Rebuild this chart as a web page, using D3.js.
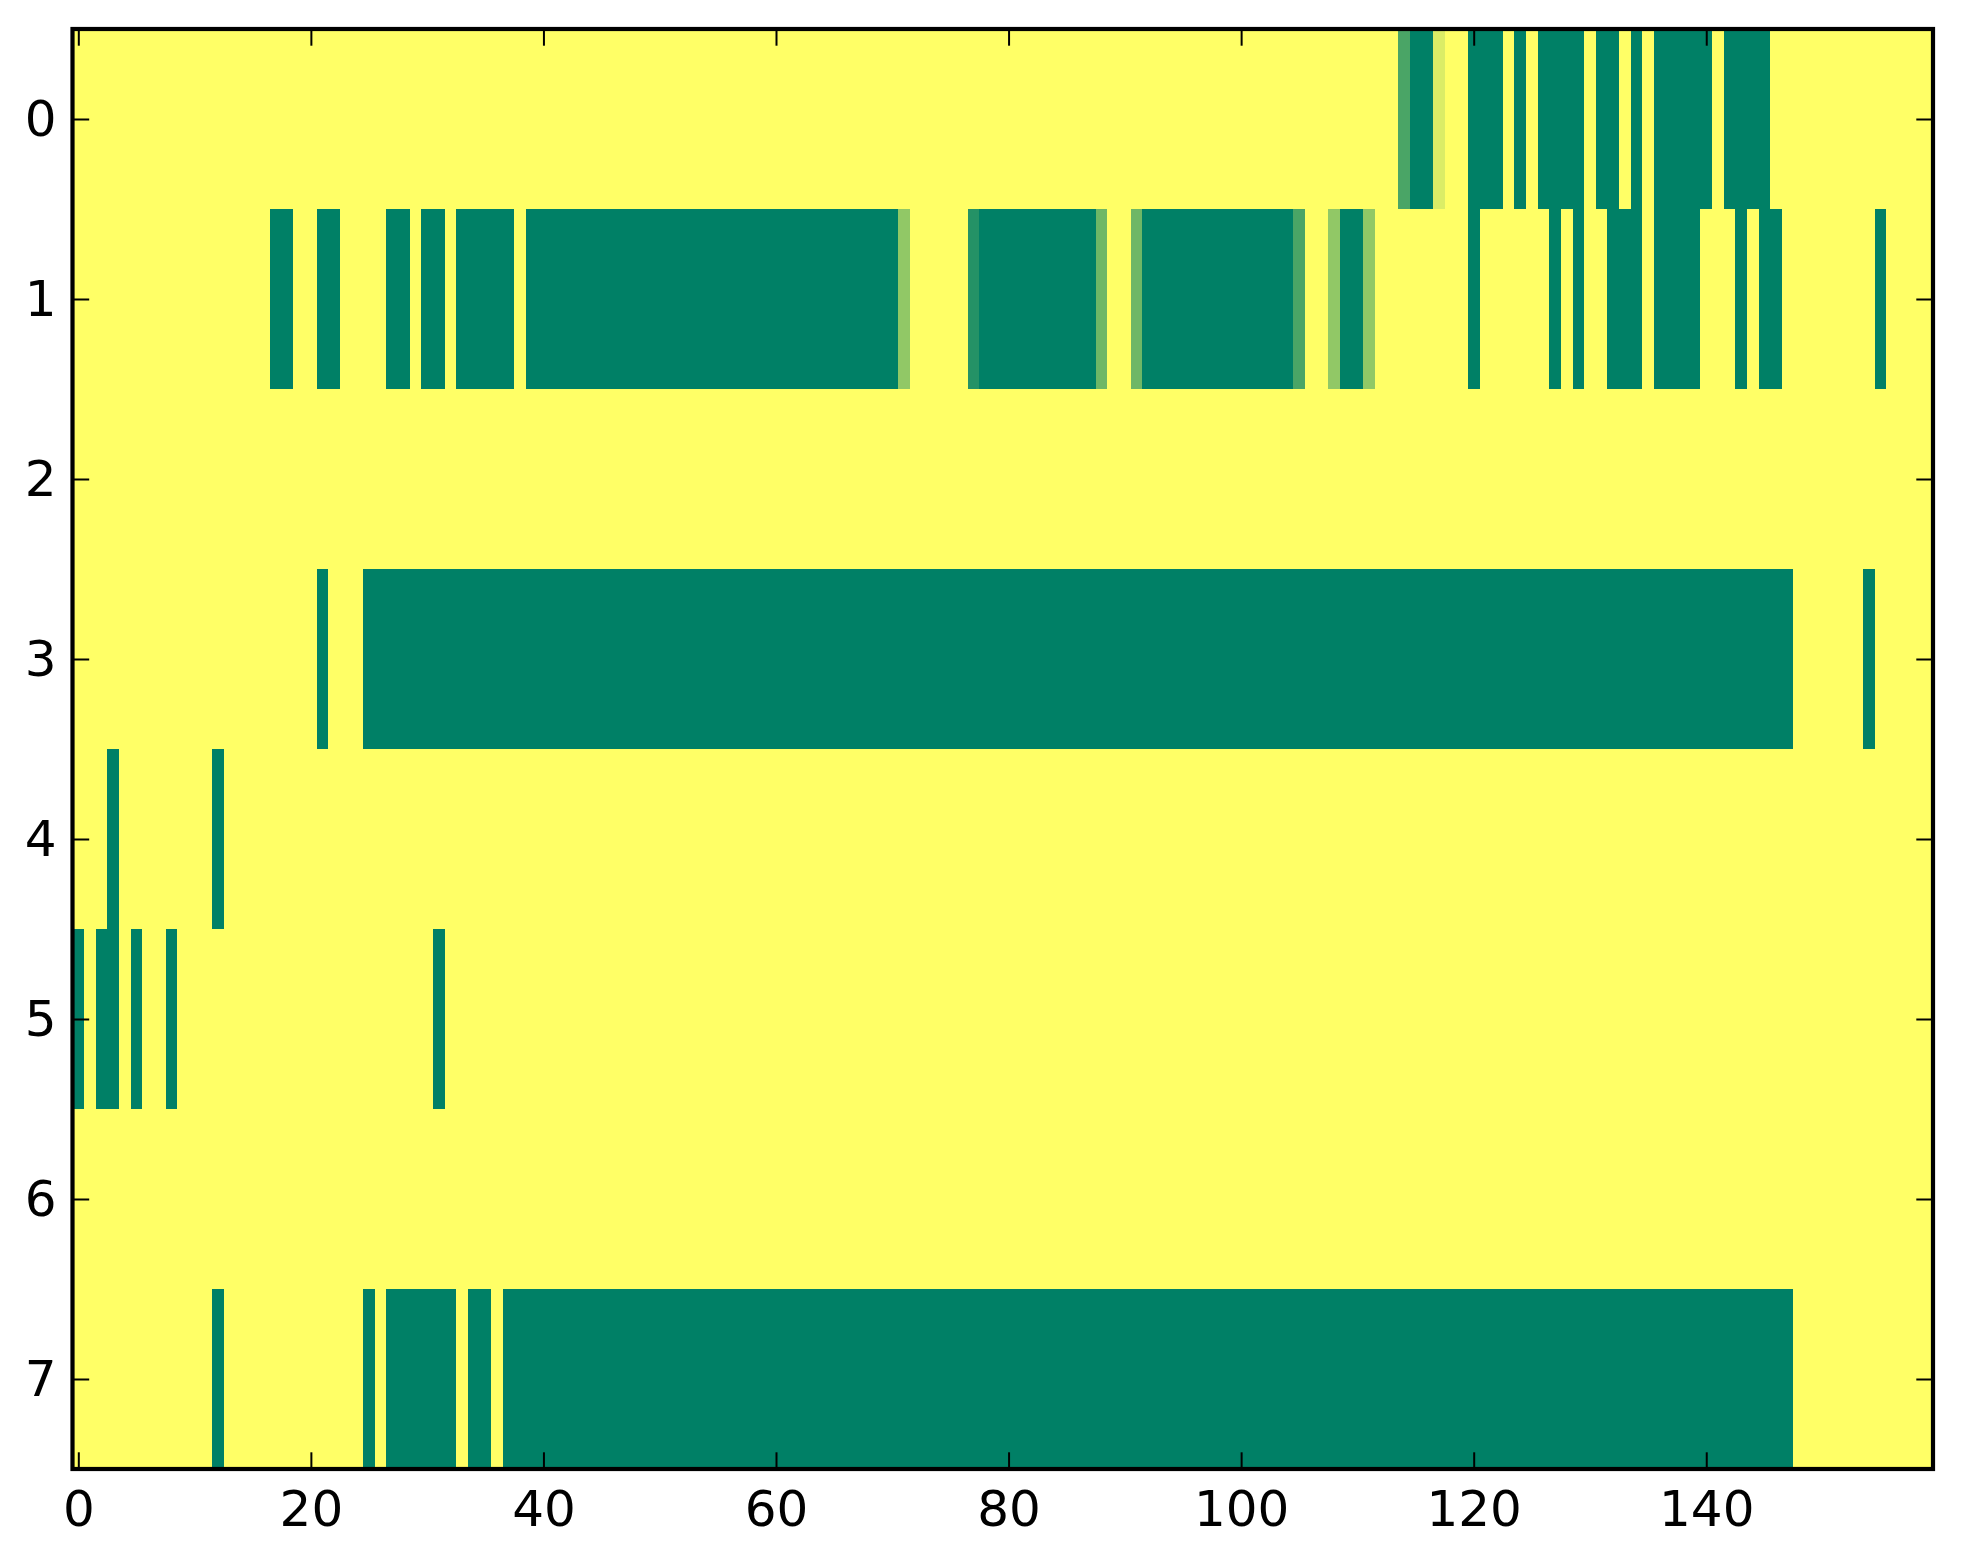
<!DOCTYPE html>
<html>
<head>
<meta charset="utf-8">
<script src="https://cdn.jsdelivr.net/npm/d3@7"></script>
<style>
  html, body { margin: 0; padding: 0; background: #fff; }
  svg { display: block; }
</style>
</head>
<body>
<div id="chart"></div>
<script>
// row labels and tick labels
const rowLabels = [0, 1, 2, 3, 4, 5, 6, 7]
const xTicks = [0, 20, 40, 60, 80, 100, 120, 140]
const yTicks = [0, 1, 2, 3, 4, 5, 6, 7]

// one array per row, 160 columns, values 0..1 (0 = green, 1 = yellow)
const row0 = [
  1,1,1,1,1,1,1,1,1,1,1,1,1,1,1,1,1,1,1,1,
  1,1,1,1,1,1,1,1,1,1,1,1,1,1,1,1,1,1,1,1,
  1,1,1,1,1,1,1,1,1,1,1,1,1,1,1,1,1,1,1,1,
  1,1,1,1,1,1,1,1,1,1,1,1,1,1,1,1,1,1,1,1,
  1,1,1,1,1,1,1,1,1,1,1,1,1,1,1,1,1,1,1,1,
  1,1,1,1,1,1,1,1,1,1,1,1,1,1,0.29,0,0,0.86,1,1,
  0,0,0,1,0,1,0,0,0,0,1,0,0,1,0,1,0,0,0,0,
  0,1,0,0,0,0,1,1,1,1,1,1,1,1,1,1,1,1,1,1
]
const row1 = [
  1,1,1,1,1,1,1,1,1,1,1,1,1,1,1,1,1,0,0,1,
  1,0,0,1,1,1,1,0,0,1,0,0,1,0,0,0,0,0,1,0,
  0,0,0,0,0,0,0,0,0,0,0,0,0,0,0,0,0,0,0,0,
  0,0,0,0,0,0,0,0,0,0,0,0.57,1,1,1,1,1,0.14,0,0,
  0,0,0,0,0,0,0,0,0.43,1,1,0.43,0,0,0,0,0,0,0,0,
  0,0,0,0,0,0.29,1,1,0.57,0,0,0.57,1,1,1,1,1,1,1,1,
  0,1,1,1,1,1,1,0,1,0,1,1,0,0,0,1,0,0,0,0,
  1,1,1,0,1,0,0,1,1,1,1,1,1,1,1,0,1,1,1,1
]
const row2 = [
  1,1,1,1,1,1,1,1,1,1,1,1,1,1,1,1,1,1,1,1,
  1,1,1,1,1,1,1,1,1,1,1,1,1,1,1,1,1,1,1,1,
  1,1,1,1,1,1,1,1,1,1,1,1,1,1,1,1,1,1,1,1,
  1,1,1,1,1,1,1,1,1,1,1,1,1,1,1,1,1,1,1,1,
  1,1,1,1,1,1,1,1,1,1,1,1,1,1,1,1,1,1,1,1,
  1,1,1,1,1,1,1,1,1,1,1,1,1,1,1,1,1,1,1,1,
  1,1,1,1,1,1,1,1,1,1,1,1,1,1,1,1,1,1,1,1,
  1,1,1,1,1,1,1,1,1,1,1,1,1,1,1,1,1,1,1,1
]
const row3 = [
  1,1,1,1,1,1,1,1,1,1,1,1,1,1,1,1,1,1,1,1,
  1,0,1,1,1,0,0,0,0,0,0,0,0,0,0,0,0,0,0,0,
  0,0,0,0,0,0,0,0,0,0,0,0,0,0,0,0,0,0,0,0,
  0,0,0,0,0,0,0,0,0,0,0,0,0,0,0,0,0,0,0,0,
  0,0,0,0,0,0,0,0,0,0,0,0,0,0,0,0,0,0,0,0,
  0,0,0,0,0,0,0,0,0,0,0,0,0,0,0,0,0,0,0,0,
  0,0,0,0,0,0,0,0,0,0,0,0,0,0,0,0,0,0,0,0,
  0,0,0,0,0,0,0,0,1,1,1,1,1,1,0,1,1,1,1,1
]
const row4 = [
  1,1,1,0,1,1,1,1,1,1,1,1,0,1,1,1,1,1,1,1,
  1,1,1,1,1,1,1,1,1,1,1,1,1,1,1,1,1,1,1,1,
  1,1,1,1,1,1,1,1,1,1,1,1,1,1,1,1,1,1,1,1,
  1,1,1,1,1,1,1,1,1,1,1,1,1,1,1,1,1,1,1,1,
  1,1,1,1,1,1,1,1,1,1,1,1,1,1,1,1,1,1,1,1,
  1,1,1,1,1,1,1,1,1,1,1,1,1,1,1,1,1,1,1,1,
  1,1,1,1,1,1,1,1,1,1,1,1,1,1,1,1,1,1,1,1,
  1,1,1,1,1,1,1,1,1,1,1,1,1,1,1,1,1,1,1,1
]
const row5 = [
  0,1,0,0,1,0,1,1,0,1,1,1,1,1,1,1,1,1,1,1,
  1,1,1,1,1,1,1,1,1,1,1,0,1,1,1,1,1,1,1,1,
  1,1,1,1,1,1,1,1,1,1,1,1,1,1,1,1,1,1,1,1,
  1,1,1,1,1,1,1,1,1,1,1,1,1,1,1,1,1,1,1,1,
  1,1,1,1,1,1,1,1,1,1,1,1,1,1,1,1,1,1,1,1,
  1,1,1,1,1,1,1,1,1,1,1,1,1,1,1,1,1,1,1,1,
  1,1,1,1,1,1,1,1,1,1,1,1,1,1,1,1,1,1,1,1,
  1,1,1,1,1,1,1,1,1,1,1,1,1,1,1,1,1,1,1,1
]
const row6 = [
  1,1,1,1,1,1,1,1,1,1,1,1,1,1,1,1,1,1,1,1,
  1,1,1,1,1,1,1,1,1,1,1,1,1,1,1,1,1,1,1,1,
  1,1,1,1,1,1,1,1,1,1,1,1,1,1,1,1,1,1,1,1,
  1,1,1,1,1,1,1,1,1,1,1,1,1,1,1,1,1,1,1,1,
  1,1,1,1,1,1,1,1,1,1,1,1,1,1,1,1,1,1,1,1,
  1,1,1,1,1,1,1,1,1,1,1,1,1,1,1,1,1,1,1,1,
  1,1,1,1,1,1,1,1,1,1,1,1,1,1,1,1,1,1,1,1,
  1,1,1,1,1,1,1,1,1,1,1,1,1,1,1,1,1,1,1,1
]
const row7 = [
  1,1,1,1,1,1,1,1,1,1,1,1,0,1,1,1,1,1,1,1,
  1,1,1,1,1,0,1,0,0,0,0,0,0,1,0,0,1,0,0,0,
  0,0,0,0,0,0,0,0,0,0,0,0,0,0,0,0,0,0,0,0,
  0,0,0,0,0,0,0,0,0,0,0,0,0,0,0,0,0,0,0,0,
  0,0,0,0,0,0,0,0,0,0,0,0,0,0,0,0,0,0,0,0,
  0,0,0,0,0,0,0,0,0,0,0,0,0,0,0,0,0,0,0,0,
  0,0,0,0,0,0,0,0,0,0,0,0,0,0,0,0,0,0,0,0,
  0,0,0,0,0,0,0,0,1,1,1,1,1,1,1,1,1,1,1,1
]

const grid = [row0, row1, row2, row3, row4, row5, row6, row7]

class HeatmapPlotter {
  constructor({ width, height, plot, selector, colors, fontSize }) {
    this.width = width || 1963
    this.height = height || 1564
    this.plot = plot
    this.selector = selector
    this.colors = colors || ['#008066', '#ffff66'] // matplotlib 'summer'
    this.fontSize = fontSize || 50
    this.tickLen = 16.7
  }

  _cells(data) {
    const out = []
    data.forEach((row, r) => {
      row.forEach((v, c) => out.push({ r: rowLabels[r], c, v }))
    })
    return out
  }

  draw(data) {
    const p = this.plot
    const nCols = data[0].length

    const x = d3.scaleLinear().domain([-0.5, nCols - 0.5]).range([p.left, p.right])
    const y = d3.scaleLinear().domain([-0.5, rowLabels.length - 0.5]).range([p.top, p.bottom])
    const color = d3.scaleLinear().domain([0, 1]).range(this.colors)

    const svg = d3.select(this.selector).append('svg')
      .attr('width', this.width)
      .attr('height', this.height)

    svg.append('rect')
      .attr('width', this.width)
      .attr('height', this.height)
      .attr('fill', '#fff')

    const x0 = c => Math.round(x(c - 0.5))
    const x1 = c => Math.round(x(c + 0.5))
    const y0 = r => Math.round(y(r - 0.5))
    const y1 = r => Math.round(y(r + 0.5))

    svg.append('g').attr('class', 'cells')
      .selectAll('rect')
      .data(this._cells(data))
      .enter().append('rect')
      .attr('x', d => x0(d.c))
      .attr('y', d => y0(d.r))
      .attr('width', d => x1(d.c) - x0(d.c))
      .attr('height', d => y1(d.r) - y0(d.r))
      .attr('fill', d => color(d.v))
      .attr('shape-rendering', 'crispEdges')

    const t = this.tickLen
    const fs = this.fontSize
    const noDomain = g => g.select('.domain').remove()
    const styleAxis = g => {
      // d3 puts font-family="sans-serif" on the axis group, override it here
      g.attr('font-family', '"DejaVu Sans"').attr('font-size', fs)
      g.selectAll('.tick line').attr('stroke', '#000').attr('stroke-width', 2)
      g.selectAll('.tick text').attr('fill', '#000')
        .style('font-family', '"DejaVu Sans", sans-serif')
        .style('font-size', fs + 'px')
    }

    svg.append('g')
      .attr('transform', `translate(0, ${p.bottom})`)
      .call(d3.axisBottom(x).tickValues(xTicks).tickSizeInner(-t).tickSizeOuter(0).tickPadding(21))
      .call(noDomain).call(styleAxis)

    svg.append('g')
      .attr('transform', `translate(0, ${p.top})`)
      .call(d3.axisTop(x).tickValues(xTicks).tickSizeInner(-t).tickSizeOuter(0).tickFormat(''))
      .call(noDomain).call(styleAxis)

    svg.append('g')
      .attr('transform', `translate(${p.left}, 0)`)
      .call(d3.axisLeft(y).tickValues(yTicks).tickSizeInner(-t).tickSizeOuter(0).tickPadding(16))
      .call(noDomain).call(styleAxis)

    svg.append('g')
      .attr('transform', `translate(${p.right}, 0)`)
      .call(d3.axisRight(y).tickValues(yTicks).tickSizeInner(-t).tickSizeOuter(0).tickFormat(''))
      .call(noDomain).call(styleAxis)

    // frame (spines)
    svg.append('rect')
      .attr('x', p.left)
      .attr('y', p.top)
      .attr('width', p.right - p.left)
      .attr('height', p.bottom - p.top)
      .attr('fill', 'none')
      .attr('stroke', '#000')
      .attr('stroke-width', 4.2)
  }
}

new HeatmapPlotter({
  selector: '#chart',
  plot: { left: 72.5, right: 1933, top: 29, bottom: 1469 }
}).draw(grid)
</script>
</body>
</html>
